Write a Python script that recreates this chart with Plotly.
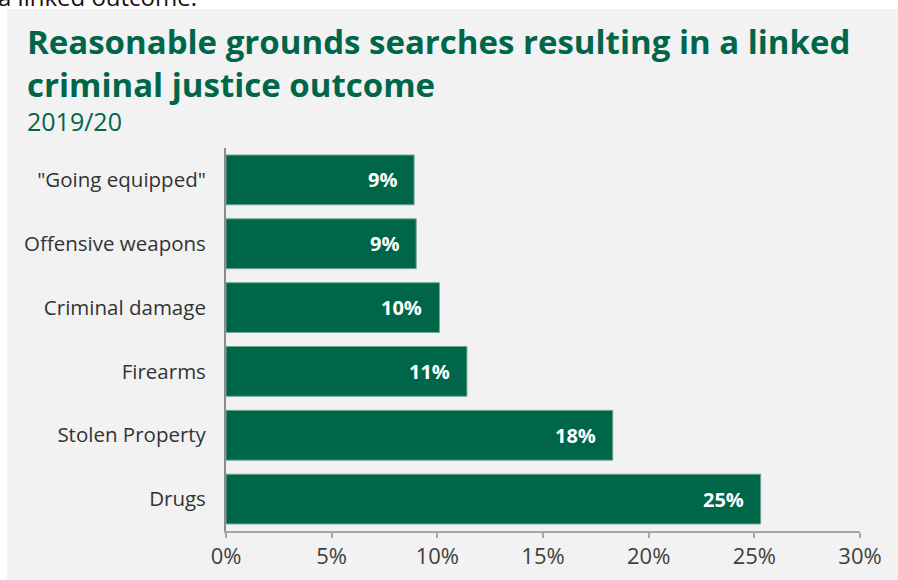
import plotly.graph_objects as go

categories = ['"Going equipped"', "Offensive weapons", "Criminal damage", "Firearms", "Stolen Property", "Drugs"]
values = [8.9, 9.0, 10.1, 11.4, 18.3, 25.3]
labels = ["9%", "9%", "10%", "11%", "18%", "25%"]
xticks = [0, 5, 10, 15, 20, 25, 30]
xticktext = ["0%", "5%", "10%", "15%", "20%", "25%", "30%"]

W, H = 898, 580
L, R, T, B = 226, 38, 148, 49
PW, PH = W - L - R, H - T - B

def px(x):
    return (x - L) / PW

def py(y):
    return (H - B - y) / PH

GREEN = "#00664a"
FONT = "Open Sans"

fig = go.Figure()
fig.add_trace(go.Bar(
    y=categories, x=values, orientation="h",
    marker=dict(color=GREEN, line=dict(color="#6fa796", width=1)),
    hoverinfo="skip",
))

annotations = []
for c, v, t in zip(categories, values, labels):
    annotations.append(dict(x=v, y=c, xref="x", yref="y", text=t, showarrow=False,
                            xanchor="right", xshift=-15,
                            font=dict(family=FONT, size=20, color="white", weight="bold")))

annotations += [
    dict(x=px(25), y=py(42), xref="paper", yref="paper", xanchor="left", yanchor="middle",
         text="Reasonable grounds searches resulting in a linked", showarrow=False,
         font=dict(family=FONT, size=33, color=GREEN, weight="bold")),
    dict(x=px(25), y=py(85), xref="paper", yref="paper", xanchor="left", yanchor="middle",
         text="criminal justice outcome", showarrow=False,
         font=dict(family=FONT, size=33, color=GREEN, weight="bold")),
    dict(x=px(25), y=py(121), xref="paper", yref="paper", xanchor="left", yanchor="middle",
         text="2019/20", showarrow=False,
         font=dict(family=FONT, size=25, color=GREEN)),
    dict(x=px(-4), y=py(-4), xref="paper", yref="paper", xanchor="left", yanchor="middle",
         text="a linked outcome.", showarrow=False,
         font=dict(family=FONT, size=24, color="#111111")),
]

fig.update_layout(
    width=W, height=H,
    margin=dict(l=L, r=R, t=T, b=B, autoexpand=False),
    paper_bgcolor="white",
    plot_bgcolor="rgba(0,0,0,0)",
    showlegend=False,
    bargap=0.22,
    annotations=annotations,
    shapes=[dict(type="rect", xref="paper", yref="paper", layer="below",
                 x0=px(7), x1=px(898), y0=py(580), y1=py(9),
                 fillcolor="#f2f2f2", line=dict(width=0))],
    xaxis=dict(range=[0, 30], tickvals=xticks, ticktext=xticktext,
               showgrid=False, zeroline=False, showline=True, linecolor="#a6a6a6", linewidth=2,
               ticks="outside", ticklen=5, tickcolor="#a6a6a6", tickwidth=2,
               tickfont=dict(family=FONT, size=22, color="#404040"), fixedrange=True),
    yaxis=dict(categoryorder="array", categoryarray=categories[::-1],
               showgrid=False, zeroline=False, showline=True, linecolor="#8c8c8c", linewidth=2,
               ticks="", ticklabelstandoff=14,
               tickfont=dict(family=FONT, size=20.5, color="#333333"), fixedrange=True),
)

fig.write_html("out.html")
